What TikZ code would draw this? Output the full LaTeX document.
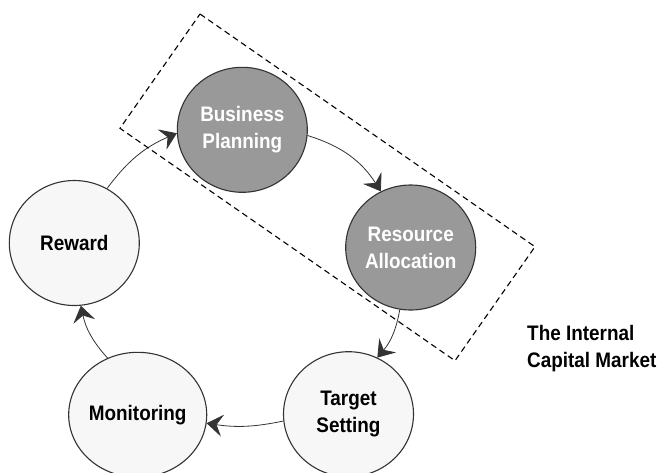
\documentclass[tikz,border=0pt]{standalone}
\usepackage{fontspec}
\setmainfont{Liberation Sans}[FakeStretch=0.9]
\usetikzlibrary{shapes.geometric,arrows.meta}
\definecolor{darkfill}{HTML}{999999}
\definecolor{lightfill}{HTML}{F7F7F7}
\definecolor{edgecol}{HTML}{333333}
\begin{document}
\begin{tikzpicture}[x=1pt,y=-1pt,
  stage/.style={ellipse, draw=edgecol, line width=1.1pt, minimum width=130pt,
    minimum height=125pt, inner sep=0pt, align=center,
    font=\fontsize{21}{27}\selectfont\bfseries},
  darkstage/.style={stage, fill=darkfill, text=white},
  lightstage/.style={stage, fill=lightfill, text=black},
  flow/.style={draw=edgecol, line width=0.8pt,
    -{Stealth[length=16pt,width=22pt,inset=6pt]}},
  groupbox/.style={draw=black, line width=1.1pt, dash pattern=on 6pt off 4pt},
  caption/.style={inner sep=0pt, align=left, anchor=north west,
    font=\fontsize{21}{27}\selectfont\bfseries}
]
\useasboundingbox (0,0) rectangle (660,472);
\fill[white] (0,0) rectangle (660,472);

\node[darkstage]  (bp)  at (242.3,129.8) {Business\\Planning};
\node[darkstage]  (ra)  at (410.7,247.5) {Resource\\Allocation};
\node[lightstage] (ts)  at (348.5,414.2) {Target\\Setting};
\node[lightstage] (mon) at (137.7,414.8) {Monitoring};
\node[lightstage] (rew) at (74.3,243)    {Reward};

\draw[flow] (rew.59)  to[bend left=15] (bp.183);
\draw[flow] (bp.355)  to[bend left=20] (ra.118);
\draw[flow] (ra.260)  to[bend left=15] (ts.63);
\draw[flow] (ts.186)  to[bend left=10] (mon.353);
\draw[flow] (mon.118) to[bend left=15] (rew.276);

\draw[groupbox] (200,14) -- (535,246.7) -- (455,360.7) -- (120,128.3) -- cycle;

\node[caption] (cap) at (527,325) {The Internal\\Capital Market};
\end{tikzpicture}
\end{document}
